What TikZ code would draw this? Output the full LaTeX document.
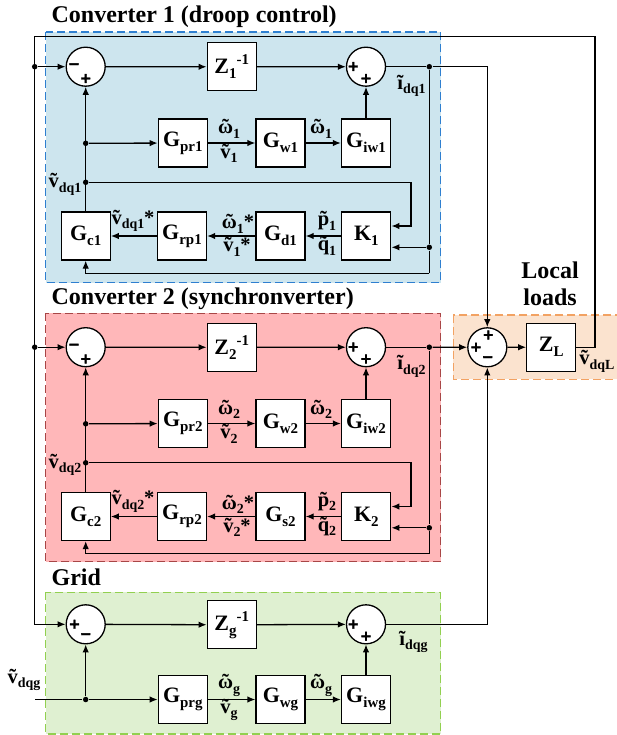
\documentclass[tikz,border=0pt]{standalone}
\usepackage{fontspec}
\usepackage{graphicx}
\setmainfont{Liberation Serif}
\newfontfamily\signfont[BoldFeatures={FakeBold=2.5}]{DejaVu Sans}
\usetikzlibrary{arrows.meta}

% tilde placed over a letter, subscripts and superscripts
\newcommand\tild[1]{\leavevmode\ooalign{#1\cr\hidewidth\char"02DC\hidewidth\cr}}
\newcommand\sbs[1]{\raisebox{-0.22em}{\scalebox{0.68}{#1}}}
\newcommand\sps[1]{\raisebox{0.42em}{\scalebox{0.68}{#1}}}

\definecolor{cafill}{HTML}{CDE5EE}
\definecolor{caline}{HTML}{2E7FD0}
\definecolor{cbfill}{HTML}{FFB7B9}
\definecolor{cbline}{HTML}{A84646}
\definecolor{ldfill}{HTML}{FBE3CF}
\definecolor{ldline}{HTML}{F2A263}
\definecolor{gdfill}{HTML}{DFF0D1}
\definecolor{gdline}{HTML}{92D050}

\tikzset{
  blk/.style={draw, fill=white, minimum width=49pt, minimum height=48pt, inner sep=0pt,
    font=\bfseries\fontsize{22}{24}\selectfont},
  sumc/.style={draw, fill=white, circle, minimum size=39pt, inner sep=0pt},
  jdot/.style={circle, fill, inner sep=0pt, minimum size=5.5pt},
  lbl/.style={inner sep=0pt, font=\bfseries\fontsize{20.5}{22}\selectfont},
  sgn/.style={inner sep=0pt, font=\signfont\bfseries\fontsize{14}{14}\selectfont},
  ttl/.style={inner sep=0pt, anchor=base west, font=\bfseries\fontsize{24}{26}\selectfont},
  zone/.style={dash pattern=on 8pt off 4pt, line width=1.3pt},
}

% one inverter control loop; #1 index, #2 vertical offset, #3 power block subscript
\newcommand\convunit[3]{%
\begin{scope}[yshift=-#2pt]
  \node[sumc] (sa#1) at (85.7,66.7) {};
  \node[sgn] (sa#1m) at (74,66) {−};
  \node[sgn] (sa#1p) at (85.7,78.5) {+};
  \node[blk] (z#1) at (231.7,66.8) {Z\sbs{#1}\sps{-1}};
  \node[sumc] (sb#1) at (366,66.7) {};
  \node[sgn] (sb#1p) at (353.3,66.5) {+};
  \node[sgn] (sb#1q) at (366,78.5) {+};
  \node[blk] (gpr#1) at (182.8,143) {G\sbs{pr#1}};
  \node[blk] (gw#1) at (280.5,143) {G\sbs{w#1}};
  \node[blk] (giw#1) at (366,143) {G\sbs{iw#1}};
  \node[blk] (gc#1) at (85.7,236) {G\sbs{c#1}};
  \node[blk] (grp#1) at (182,236) {G\sbs{rp#1}};
  \node[blk] (gd#1) at (280.5,236) {G\sbs{#3}};
  \node[blk] (k#1) at (366.3,236) {K\sbs{#1}};
  \node[jdot] (jin#1) at (34.7,66.7) {};
  \node[jdot] (jout#1) at (429.3,66.7) {};
  \node[jdot] (jv#1) at (85.7,182.3) {};
  \node[jdot] (jg#1) at (85.7,143.3) {};
  \node[jdot] (jk#1) at (429.3,247.3) {};
  \coordinate (kv#1) at (411,182.3);
  \coordinate (cb#1) at (429.3,273.3);
  % signal paths
  \draw[->] (jin#1) -- (sa#1);
  \draw[->] (sa#1) -- (z#1);
  \draw[->] (z#1) -- (sb#1);
  \draw (sb#1) -- (jout#1);
  \draw (jout#1) -- (jk#1) -- (cb#1);
  \draw[->] (cb#1) -| (gc#1.south);
  \draw[->] (jk#1) -- ([yshift=-11.3pt]k#1.east);
  \draw[->] (gc#1) -- (sa#1);
  \draw[->] (jg#1) -- (gpr#1);
  \draw[->] (gpr#1) -- (gw#1);
  \draw[->] (gw#1) -- (giw#1);
  \draw[->] (giw#1) -- (sb#1);
  \draw[->] (jv#1) -- (kv#1) |- ([yshift=10pt]k#1.east);
  \draw[->] (k#1) -- (gd#1);
  \draw[->] (gd#1) -- (grp#1);
  \draw[->] (grp#1) -- (gc#1);
  % signal names
  \node[lbl] (la#1) at (229,131) {\tild{ω}\sbs{#1}};
  \node[lbl] (lb#1) at (229,156) {\tild{v}\sbs{#1}};
  \node[lbl] (lc#1) at (321,131) {\tild{ω}\sbs{#1}};
  \node[lbl] (ld#1) at (327,223) {\tild{p}\sbs{#1}};
  \node[lbl] (le#1) at (327,248) {\tild{q}\sbs{#1}};
  \node[lbl] (lf#1) at (238,224) {\tild{ω}\sbs{#1}*};
  \node[lbl] (lg#1) at (237,247) {\tild{v}\sbs{#1}*};
  \node[lbl] (lh#1) at (133,221) {\tild{v}\sbs{dq#1}*};
  \node[lbl] (li#1) at (65,187) {\tild{v}\sbs{dq#1}};
  \node[lbl] (lj#1) at (411.5,86) {ĩ\sbs{dq#1}};
\end{scope}}

\begin{document}
\begin{tikzpicture}[x=1pt, y=-1pt, line width=1.3pt,
  >={Latex[length=8pt,width=6.5pt]}, font=\bfseries]
\useasboundingbox (0,0) rectangle (617,735);

% shaded zones
\draw[zone, fill=cafill, draw=caline] (45.7,32) rectangle (440.7,282.7);
\draw[zone, fill=cbfill, draw=cbline] (45.7,313.3) rectangle (440.7,561.7);
\draw[zone, fill=ldfill, draw=ldline] (453.3,315) rectangle (630,379.3);
\draw[zone, fill=gdfill, draw=gdline] (45.7,592.3) rectangle (440.7,734);

% zone titles
\node[ttl] (t1) at (51,23) {Converter 1 (droop control)};
\node[ttl] (t2) at (51,304) {Converter 2 (synchronverter)};
\node[ttl] (t3) at (51,585) {Grid};
\node[ttl, anchor=base] (t4) at (550,278) {Local};
\node[ttl, anchor=base] (t5) at (550,305) {loads};

\convunit{1}{0}{d1}
\convunit{2}{280.5}{s2}

% local loads
\node[sumc] (s3) at (487.3,347.3) {};
\node[sgn] (s3a) at (488.3,335) {+};
\node[sgn] (s3b) at (476,347.3) {+};
\node[sgn] (s3c) at (487.7,359) {−};
\node[blk] (zl) at (551.3,347.2) {Z\sbs{L}};
\node[lbl] (lvl) at (597,364) {\tild{v}\sbs{dqL}};

% grid
\node[sumc] (sg1) at (85.7,624.3) {};
\node[sgn] (sg1a) at (74.5,624.3) {+};
\node[sgn] (sg1b) at (85.7,636) {−};
\node[blk] (zg) at (231.7,624.8) {Z\sbs{g}\sps{-1}};
\node[sumc] (sg2) at (366,624.3) {};
\node[sgn] (sg2a) at (353.3,624.3) {+};
\node[sgn] (sg2b) at (366,636.3) {+};
\node[blk] (gprg) at (182.8,699.5) {G\sbs{prg}};
\node[blk] (gwg) at (280.5,699.5) {G\sbs{wg}};
\node[blk] (giwg) at (366,699.5) {G\sbs{iwg}};
\node[jdot] (jgd) at (85.7,699.5) {};
\coordinate (vin) at (35,699.5);
\node[lbl] (lvg) at (24,682.5) {\tild{v}\sbs{dqg}};
\node[lbl] (lwg1) at (229,687.5) {\tild{ω}\sbs{g}};
\node[lbl] (lvg1) at (229,712.5) {\tild{v}\sbs{g}};
\node[lbl] (lwg2) at (321,687.5) {\tild{ω}\sbs{g}};
\node[lbl] (lig) at (413.5,642) {ĩ\sbs{dqg}};

\draw (vin) -- (jgd);
\draw[->] (jgd) -- (gprg);
\draw[->] (jgd) -- (sg1);
\draw[->] (sg1) -- (zg);
\draw[->] (zg) -- (sg2);
\draw[->] (gprg) -- (gwg);
\draw[->] (gwg) -- (giwg);
\draw[->] (giwg) -- (sg2);

% currents into the load node and the voltage fed back
\coordinate (tr) at (595,36.7);
\coordinate (tl) at (34.7,36.7);
\coordinate (bl) at (34.7,624.3);
\draw[->] (jout1) -| (s3);
\draw[->] (jout2) -- (s3);
\draw[->] (sg2) -| (s3);
\draw[->] (s3) -- (zl);
\draw[->] (zl.east) -| (tr) -- (tl) -- (bl) -- (sg1);
\end{tikzpicture}
\end{document}
